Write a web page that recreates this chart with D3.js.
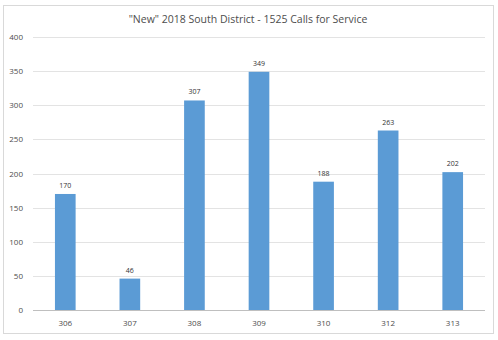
<!DOCTYPE html>
<html>
<head>
<meta charset="utf-8">
<script src="https://cdn.jsdelivr.net/npm/d3@7"></script>
<style>
  body { margin: 0; background: #fff; }
  svg { display: block; font-family: "Open Sans", "Liberation Sans", sans-serif; }
</style>
</head>
<body>
<div id="chart"></div>
<script>
// Calls for service by beat
const beats = ["306", "307", "308", "309", "310", "312", "313"];
const calls = [170, 46, 307, 349, 188, 263, 202];
const yTicks = [0, 50, 100, 150, 200, 250, 300, 350, 400];

const width = 498, height = 340;
const margin = { top: 37, right: 13, bottom: 30, left: 33 };

const svg = d3.select("#chart")
    .append("svg")
    .attr("width", width)
    .attr("height", height);

// Chart frame
svg.append("rect")
    .attr("x", 3.5)
    .attr("y", 5.5)
    .attr("width", 490)
    .attr("height", 328)
    .attr("fill", "#fff")
    .attr("stroke", "#d9d9d9");

const x = d3.scaleBand()
    .domain(beats)
    .range([margin.left, width - margin.right])
    .paddingInner(0.68)
    .paddingOuter(0.34);

const y = d3.scaleLinear()
    .domain([0, 400])
    .range([height - margin.bottom, margin.top]);

// Gridlines
svg.append("g")
    .selectAll("line")
    .data(yTicks)
    .join("line")
    .attr("x1", margin.left)
    .attr("x2", width - margin.right)
    .attr("y1", d => Math.round(y(d)) + 0.5)
    .attr("y2", d => Math.round(y(d)) + 0.5)
    .attr("stroke", d => d === 0 ? "#bfbfbf" : "#e3e3e3");

// Y-axis labels
svg.append("g")
    .selectAll("text")
    .data(yTicks)
    .join("text")
    .attr("x", 23)
    .attr("y", d => y(d) + 3)
    .attr("text-anchor", "end")
    .attr("font-size", "8px")
    .attr("fill", "#4d4d4d")
    .text(d => d);

// Bars
svg.append("g")
    .selectAll("rect")
    .data(calls)
    .join("rect")
    .attr("x", (d, i) => x(beats[i]))
    .attr("y", d => y(d))
    .attr("width", x.bandwidth())
    .attr("height", d => y(0) - y(d))
    .attr("fill", "#5b9bd5");

// Value labels
svg.append("g")
    .selectAll("text")
    .data(calls)
    .join("text")
    .attr("x", (d, i) => x(beats[i]) + x.bandwidth() / 2)
    .attr("y", d => y(d) - 6)
    .attr("text-anchor", "middle")
    .attr("font-size", "7px")
    .attr("fill", "#333")
    .text(d => d);

// X-axis labels
svg.append("g")
    .selectAll("text")
    .data(beats)
    .join("text")
    .attr("x", d => x(d) + x.bandwidth() / 2)
    .attr("y", height - margin.bottom + 16)
    .attr("text-anchor", "middle")
    .attr("font-size", "8px")
    .attr("fill", "#4d4d4d")
    .text(d => d);

// Title
svg.append("text")
    .attr("x", 248)
    .attr("y", 23)
    .attr("text-anchor", "middle")
    .attr("font-size", "10.5px")
    .attr("fill", "#4d4d4d")
    .text("\"New\" 2018 South District - 1525 Calls for Service");
</script>
</body>
</html>
